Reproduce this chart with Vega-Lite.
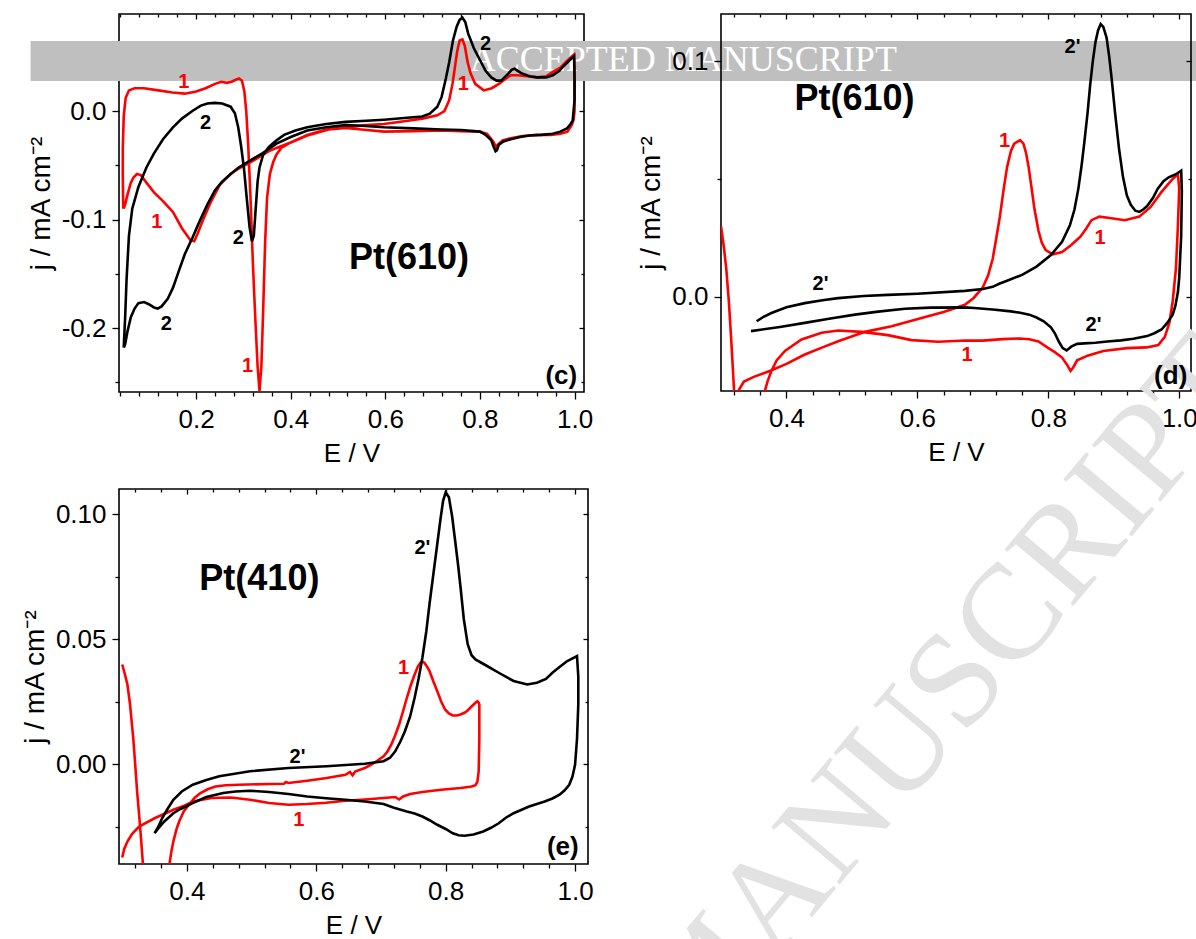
{
"$schema": "https://vega.github.io/schema/vega-lite/v6.json",
"padding": {"left": 20, "top": 12, "right": 0, "bottom": 0},
"background": "#ffffff",
"config": {
  "view": {"stroke": "#000000", "strokeWidth": 1.6},
  "font": "Liberation Sans",
  "axis": {"labelFont": "Liberation Sans", "titleFont": "Liberation Sans", "labelFontSize": 26, "titleFontSize": 26, "titleFontWeight": "normal", "labelColor": "#000000", "titleColor": "#000000", "tickColor": "#000000", "tickWidth": 1.3, "domain": false, "grid": false, "labelFlush": false, "labelOverlap": false},
  "axisLeft": {"titleFontSize": 28}
},
"datasets": {
  "c": [
    {"s":"1","E":0.046,"j":-0.090},{"s":"1","E":0.045,"j":-0.060},{"s":"1","E":0.045,"j":-0.035},{"s":"1","E":0.047,"j":-0.005},{"s":"1","E":0.051,"j":0.012},{"s":"1","E":0.058,"j":0.019},{"s":"1","E":0.07,"j":0.021},{"s":"1","E":0.09,"j":0.021},{"s":"1","E":0.12,"j":0.019},{"s":"1","E":0.15,"j":0.017},{"s":"1","E":0.176,"j":0.016},{"s":"1","E":0.20,"j":0.018},{"s":"1","E":0.22,"j":0.021},{"s":"1","E":0.24,"j":0.025},{"s":"1","E":0.253,"j":0.027},{"s":"1","E":0.265,"j":0.026},{"s":"1","E":0.275,"j":0.027},{"s":"1","E":0.285,"j":0.029},{"s":"1","E":0.291,"j":0.030},{"s":"1","E":0.297,"j":0.028},{"s":"1","E":0.302,"j":0.018},{"s":"1","E":0.306,"j":0.0},{"s":"1","E":0.310,"j":-0.03},{"s":"1","E":0.315,"j":-0.08},{"s":"1","E":0.320,"j":-0.14},{"s":"1","E":0.325,"j":-0.19},{"s":"1","E":0.330,"j":-0.235},{"s":"1","E":0.334,"j":-0.258},{"s":"1","E":0.338,"j":-0.235},{"s":"1","E":0.342,"j":-0.18},{"s":"1","E":0.346,"j":-0.12},{"s":"1","E":0.350,"j":-0.08},{"s":"1","E":0.356,"j":-0.058},{"s":"1","E":0.363,"j":-0.047},{"s":"1","E":0.370,"j":-0.040},{"s":"1","E":0.38,"j":-0.034},{"s":"1","E":0.40,"j":-0.029},{"s":"1","E":0.435,"j":-0.022},{"s":"1","E":0.475,"j":-0.017},{"s":"1","E":0.516,"j":-0.015},{"s":"1","E":0.56,"j":-0.013},{"s":"1","E":0.597,"j":-0.012},{"s":"1","E":0.64,"j":-0.0095},{"s":"1","E":0.678,"j":-0.007},{"s":"1","E":0.71,"j":-0.004},{"s":"1","E":0.725,"j":0.0},{"s":"1","E":0.735,"j":0.01},{"s":"1","E":0.742,"j":0.025},{"s":"1","E":0.747,"j":0.04},{"s":"1","E":0.752,"j":0.055},{"s":"1","E":0.757,"j":0.065},{"s":"1","E":0.763,"j":0.066},{"s":"1","E":0.768,"j":0.06},{"s":"1","E":0.774,"j":0.045},{"s":"1","E":0.78,"j":0.035},{"s":"1","E":0.79,"j":0.025},{"s":"1","E":0.808,"j":0.019},{"s":"1","E":0.825,"j":0.021},{"s":"1","E":0.84,"j":0.025},{"s":"1","E":0.855,"j":0.03},{"s":"1","E":0.865,"j":0.033},{"s":"1","E":0.88,"j":0.033},{"s":"1","E":0.9,"j":0.032},{"s":"1","E":0.921,"j":0.031},{"s":"1","E":0.94,"j":0.032},{"s":"1","E":0.954,"j":0.036},{"s":"1","E":0.97,"j":0.04},{"s":"1","E":0.986,"j":0.047},{"s":"1","E":0.999,"j":0.052},{"s":"1","E":1.0,"j":0.04},{"s":"1","E":1.0,"j":0.0},{"s":"1","E":0.998,"j":-0.008},{"s":"1","E":0.994,"j":-0.013},{"s":"1","E":0.985,"j":-0.019},{"s":"1","E":0.97,"j":-0.021},{"s":"1","E":0.95,"j":-0.022},{"s":"1","E":0.921,"j":-0.022},{"s":"1","E":0.89,"j":-0.023},{"s":"1","E":0.865,"j":-0.025},{"s":"1","E":0.848,"j":-0.027},{"s":"1","E":0.838,"j":-0.031},{"s":"1","E":0.834,"j":-0.033},{"s":"1","E":0.828,"j":-0.028},{"s":"1","E":0.815,"j":-0.021},{"s":"1","E":0.8,"j":-0.019},{"s":"1","E":0.76,"j":-0.0185},{"s":"1","E":0.719,"j":-0.018},{"s":"1","E":0.66,"j":-0.0185},{"s":"1","E":0.597,"j":-0.019},{"s":"1","E":0.55,"j":-0.017},{"s":"1","E":0.516,"j":-0.0155},{"s":"1","E":0.48,"j":-0.017},{"s":"1","E":0.435,"j":-0.0225},{"s":"1","E":0.40,"j":-0.029},{"s":"1","E":0.37,"j":-0.034},{"s":"1","E":0.354,"j":-0.037},{"s":"1","E":0.32,"j":-0.046},{"s":"1","E":0.29,"j":-0.053},{"s":"1","E":0.273,"j":-0.058},{"s":"1","E":0.25,"j":-0.068},{"s":"1","E":0.232,"j":-0.083},{"s":"1","E":0.215,"j":-0.1},{"s":"1","E":0.203,"j":-0.113},{"s":"1","E":0.196,"j":-0.12},{"s":"1","E":0.188,"j":-0.119},{"s":"1","E":0.17,"j":-0.108},{"s":"1","E":0.151,"j":-0.093},{"s":"1","E":0.13,"j":-0.083},{"s":"1","E":0.111,"j":-0.075},{"s":"1","E":0.095,"j":-0.066},{"s":"1","E":0.083,"j":-0.059},{"s":"1","E":0.075,"j":-0.058},{"s":"1","E":0.068,"j":-0.061},{"s":"1","E":0.062,"j":-0.066},{"s":"1","E":0.055,"j":-0.077},{"s":"1","E":0.050,"j":-0.086},{"s":"1","E":0.047,"j":-0.090},
    {"s":"2","E":0.047,"j":-0.218},{"s":"2","E":0.050,"j":-0.19},{"s":"2","E":0.053,"j":-0.155},{"s":"2","E":0.058,"j":-0.115},{"s":"2","E":0.065,"j":-0.09},{"s":"2","E":0.078,"j":-0.070},{"s":"2","E":0.095,"j":-0.052},{"s":"2","E":0.111,"j":-0.039},{"s":"2","E":0.13,"j":-0.026},{"s":"2","E":0.151,"j":-0.015},{"s":"2","E":0.17,"j":-0.007},{"s":"2","E":0.192,"j":0.0},{"s":"2","E":0.21,"j":0.005},{"s":"2","E":0.224,"j":0.007},{"s":"2","E":0.24,"j":0.0075},{"s":"2","E":0.255,"j":0.007},{"s":"2","E":0.273,"j":0.004},{"s":"2","E":0.282,"j":-0.002},{"s":"2","E":0.289,"j":-0.015},{"s":"2","E":0.295,"j":-0.032},{"s":"2","E":0.301,"j":-0.052},{"s":"2","E":0.307,"j":-0.08},{"s":"2","E":0.313,"j":-0.107},{"s":"2","E":0.318,"j":-0.12},{"s":"2","E":0.322,"j":-0.115},{"s":"2","E":0.326,"j":-0.09},{"s":"2","E":0.330,"j":-0.065},{"s":"2","E":0.334,"j":-0.052},{"s":"2","E":0.342,"j":-0.04},{"s":"2","E":0.354,"j":-0.033},{"s":"2","E":0.37,"j":-0.027},{"s":"2","E":0.386,"j":-0.022},{"s":"2","E":0.41,"j":-0.018},{"s":"2","E":0.435,"j":-0.015},{"s":"2","E":0.475,"j":-0.012},{"s":"2","E":0.516,"j":-0.010},{"s":"2","E":0.56,"j":-0.009},{"s":"2","E":0.597,"j":-0.008},{"s":"2","E":0.64,"j":-0.0065},{"s":"2","E":0.678,"j":-0.005},{"s":"2","E":0.694,"j":-0.0025},{"s":"2","E":0.71,"j":0.004},{"s":"2","E":0.719,"j":0.013},{"s":"2","E":0.728,"j":0.03},{"s":"2","E":0.735,"j":0.045},{"s":"2","E":0.743,"j":0.065},{"s":"2","E":0.751,"j":0.078},{"s":"2","E":0.757,"j":0.084},{"s":"2","E":0.763,"j":0.086},{"s":"2","E":0.769,"j":0.082},{"s":"2","E":0.775,"j":0.0715},{"s":"2","E":0.787,"j":0.058},{"s":"2","E":0.8,"j":0.047},{"s":"2","E":0.812,"j":0.037},{"s":"2","E":0.824,"j":0.031},{"s":"2","E":0.835,"j":0.028},{"s":"2","E":0.845,"j":0.028},{"s":"2","E":0.852,"j":0.031},{"s":"2","E":0.86,"j":0.0345},{"s":"2","E":0.867,"j":0.038},{"s":"2","E":0.873,"j":0.039},{"s":"2","E":0.88,"j":0.037},{"s":"2","E":0.889,"j":0.0345},{"s":"2","E":0.905,"j":0.032},{"s":"2","E":0.921,"j":0.031},{"s":"2","E":0.94,"j":0.031},{"s":"2","E":0.954,"j":0.033},{"s":"2","E":0.968,"j":0.037},{"s":"2","E":0.978,"j":0.042},{"s":"2","E":0.99,"j":0.047},{"s":"2","E":0.999,"j":0.0505},{"s":"2","E":1.0,"j":0.03},{"s":"2","E":1.0,"j":0.01},{"s":"2","E":0.996,"j":-0.009},{"s":"2","E":0.99,"j":-0.013},{"s":"2","E":0.984,"j":-0.016},{"s":"2","E":0.97,"j":-0.019},{"s":"2","E":0.954,"j":-0.021},{"s":"2","E":0.93,"j":-0.022},{"s":"2","E":0.905,"j":-0.0225},{"s":"2","E":0.885,"j":-0.024},{"s":"2","E":0.865,"j":-0.026},{"s":"2","E":0.85,"j":-0.028},{"s":"2","E":0.84,"j":-0.031},{"s":"2","E":0.836,"j":-0.036},{"s":"2","E":0.833,"j":-0.037},{"s":"2","E":0.829,"j":-0.033},{"s":"2","E":0.824,"j":-0.027},{"s":"2","E":0.812,"j":-0.022},{"s":"2","E":0.8,"j":-0.019},{"s":"2","E":0.76,"j":-0.0175},{"s":"2","E":0.719,"j":-0.017},{"s":"2","E":0.66,"j":-0.016},{"s":"2","E":0.597,"j":-0.015},{"s":"2","E":0.55,"j":-0.0135},{"s":"2","E":0.516,"j":-0.013},{"s":"2","E":0.475,"j":-0.015},{"s":"2","E":0.435,"j":-0.018},{"s":"2","E":0.40,"j":-0.024},{"s":"2","E":0.37,"j":-0.030},{"s":"2","E":0.34,"j":-0.039},{"s":"2","E":0.313,"j":-0.046},{"s":"2","E":0.29,"j":-0.052},{"s":"2","E":0.273,"j":-0.058},{"s":"2","E":0.255,"j":-0.065},{"s":"2","E":0.24,"j":-0.073},{"s":"2","E":0.224,"j":-0.086},{"s":"2","E":0.208,"j":-0.101},{"s":"2","E":0.192,"j":-0.117},{"s":"2","E":0.176,"j":-0.132},{"s":"2","E":0.163,"j":-0.148},{"s":"2","E":0.151,"j":-0.163},{"s":"2","E":0.14,"j":-0.173},{"s":"2","E":0.127,"j":-0.18},{"s":"2","E":0.119,"j":-0.182},{"s":"2","E":0.111,"j":-0.181},{"s":"2","E":0.1,"j":-0.178},{"s":"2","E":0.09,"j":-0.176},{"s":"2","E":0.078,"j":-0.177},{"s":"2","E":0.07,"j":-0.182},{"s":"2","E":0.062,"j":-0.19},{"s":"2","E":0.055,"j":-0.203},{"s":"2","E":0.05,"j":-0.215},{"s":"2","E":0.047,"j":-0.218}
  ],
  "d": [
    {"s":"1","E":0.300,"j":0.030},{"s":"1","E":0.304,"j":0.022},{"s":"1","E":0.308,"j":0.012},{"s":"1","E":0.312,"j":-0.002},{"s":"1","E":0.316,"j":-0.02},{"s":"1","E":0.319,"j":-0.035},{"s":"1","E":0.322,"j":-0.05},{"s":"1","E":0.323,"j":-0.06},{"s":"1","E":0.324,"j":-0.05},{"s":"1","E":0.3264,"j":-0.040},{"s":"1","E":0.335,"j":-0.036},{"s":"1","E":0.35,"j":-0.034},{"s":"1","E":0.3774,"j":-0.0312},{"s":"1","E":0.40,"j":-0.0285},{"s":"1","E":0.428,"j":-0.0245},{"s":"1","E":0.455,"j":-0.0215},{"s":"1","E":0.479,"j":-0.0189},{"s":"1","E":0.52,"j":-0.0149},{"s":"1","E":0.5606,"j":-0.0125},{"s":"1","E":0.6064,"j":-0.009},{"s":"1","E":0.64,"j":-0.0065},{"s":"1","E":0.6725,"j":-0.0034},{"s":"1","E":0.686,"j":-0.0005},{"s":"1","E":0.70,"j":0.004},{"s":"1","E":0.708,"j":0.009},{"s":"1","E":0.715,"j":0.016},{"s":"1","E":0.72,"j":0.024},{"s":"1","E":0.726,"j":0.034},{"s":"1","E":0.732,"j":0.046},{"s":"1","E":0.737,"j":0.055},{"s":"1","E":0.743,"j":0.062},{"s":"1","E":0.748,"j":0.065},{"s":"1","E":0.757,"j":0.0665},{"s":"1","E":0.762,"j":0.065},{"s":"1","E":0.766,"j":0.061},{"s":"1","E":0.770,"j":0.055},{"s":"1","E":0.774,"j":0.047},{"s":"1","E":0.779,"j":0.037},{"s":"1","E":0.785,"j":0.028},{"s":"1","E":0.79,"j":0.023},{"s":"1","E":0.796,"j":0.0198},{"s":"1","E":0.807,"j":0.018},{"s":"1","E":0.821,"j":0.019},{"s":"1","E":0.835,"j":0.022},{"s":"1","E":0.849,"j":0.0255},{"s":"1","E":0.858,"j":0.029},{"s":"1","E":0.866,"j":0.0325},{"s":"1","E":0.878,"j":0.034},{"s":"1","E":0.894,"j":0.0334},{"s":"1","E":0.917,"j":0.0325},{"s":"1","E":0.939,"j":0.034},{"s":"1","E":0.956,"j":0.038},{"s":"1","E":0.973,"j":0.0445},{"s":"1","E":0.99,"j":0.050},{"s":"1","E":0.998,"j":0.052},{"s":"1","E":1.0,"j":0.046},{"s":"1","E":0.998,"j":0.03},{"s":"1","E":0.995,"j":0.012},{"s":"1","E":0.99,"j":-0.002},{"s":"1","E":0.985,"j":-0.011},{"s":"1","E":0.978,"j":-0.017},{"s":"1","E":0.968,"j":-0.0205},{"s":"1","E":0.95,"j":-0.0215},{"s":"1","E":0.92,"j":-0.0218},{"s":"1","E":0.884,"j":-0.023},{"s":"1","E":0.86,"j":-0.025},{"s":"1","E":0.844,"j":-0.027},{"s":"1","E":0.838,"j":-0.030},{"s":"1","E":0.834,"j":-0.0315},{"s":"1","E":0.829,"j":-0.029},{"s":"1","E":0.821,"j":-0.0258},{"s":"1","E":0.81,"j":-0.0235},{"s":"1","E":0.799,"j":-0.0216},{"s":"1","E":0.785,"j":-0.019},{"s":"1","E":0.771,"j":-0.018},{"s":"1","E":0.757,"j":-0.0177},{"s":"1","E":0.73,"j":-0.018},{"s":"1","E":0.70,"j":-0.0186},{"s":"1","E":0.6725,"j":-0.0186},{"s":"1","E":0.632,"j":-0.0191},{"s":"1","E":0.591,"j":-0.0184},{"s":"1","E":0.555,"j":-0.0163},{"s":"1","E":0.515,"j":-0.0149},{"s":"1","E":0.479,"j":-0.0143},{"s":"1","E":0.4537,"j":-0.0153},{"s":"1","E":0.423,"j":-0.0181},{"s":"1","E":0.3977,"j":-0.023},{"s":"1","E":0.385,"j":-0.027},{"s":"1","E":0.377,"j":-0.0315},{"s":"1","E":0.371,"j":-0.036},{"s":"1","E":0.367,"j":-0.040},{"s":"1","E":0.363,"j":-0.05},{"s":"1","E":0.36,"j":-0.06},
    {"s":"2","E":0.3545,"j":-0.0104},{"s":"2","E":0.365,"j":-0.0085},{"s":"2","E":0.377,"j":-0.0069},{"s":"2","E":0.40,"j":-0.0045},{"s":"2","E":0.428,"j":-0.0027},{"s":"2","E":0.455,"j":-0.0015},{"s":"2","E":0.479,"j":-0.0006},{"s":"2","E":0.518,"j":0.0003},{"s":"2","E":0.555,"j":0.0008},{"s":"2","E":0.6,"j":0.0013},{"s":"2","E":0.6725,"j":0.0025},{"s":"2","E":0.70,"j":0.0033},{"s":"2","E":0.715,"j":0.0042},{"s":"2","E":0.725,"j":0.0055},{"s":"2","E":0.737,"j":0.0068},{"s":"2","E":0.76,"j":0.0093},{"s":"2","E":0.782,"j":0.0128},{"s":"2","E":0.804,"j":0.0177},{"s":"2","E":0.821,"j":0.0233},{"s":"2","E":0.833,"j":0.0303},{"s":"2","E":0.840,"j":0.037},{"s":"2","E":0.846,"j":0.046},{"s":"2","E":0.851,"j":0.056},{"s":"2","E":0.855,"j":0.0654},{"s":"2","E":0.86,"j":0.078},{"s":"2","E":0.864,"j":0.09},{"s":"2","E":0.868,"j":0.1},{"s":"2","E":0.872,"j":0.108},{"s":"2","E":0.876,"j":0.113},{"s":"2","E":0.88,"j":0.1157},{"s":"2","E":0.884,"j":0.1145},{"s":"2","E":0.889,"j":0.110},{"s":"2","E":0.893,"j":0.102},{"s":"2","E":0.897,"j":0.092},{"s":"2","E":0.902,"j":0.078},{"s":"2","E":0.908,"j":0.063},{"s":"2","E":0.914,"j":0.051},{"s":"2","E":0.92,"j":0.043},{"s":"2","E":0.926,"j":0.039},{"s":"2","E":0.933,"j":0.0365},{"s":"2","E":0.939,"j":0.036},{"s":"2","E":0.945,"j":0.037},{"s":"2","E":0.951,"j":0.0385},{"s":"2","E":0.96,"j":0.042},{"s":"2","E":0.967,"j":0.0458},{"s":"2","E":0.976,"j":0.049},{"s":"2","E":0.984,"j":0.0507},{"s":"2","E":0.995,"j":0.052},{"s":"2","E":1.003,"j":0.0535},{"s":"2","E":1.004,"j":0.045},{"s":"2","E":1.003,"j":0.026},{"s":"2","E":1.0,"j":0.008},{"s":"2","E":0.998,"j":0.002},{"s":"2","E":0.994,"j":-0.004},{"s":"2","E":0.99,"j":-0.0076},{"s":"2","E":0.982,"j":-0.011},{"s":"2","E":0.973,"j":-0.0139},{"s":"2","E":0.962,"j":-0.0155},{"s":"2","E":0.951,"j":-0.0167},{"s":"2","E":0.93,"j":-0.0178},{"s":"2","E":0.911,"j":-0.0185},{"s":"2","E":0.89,"j":-0.019},{"s":"2","E":0.872,"j":-0.0195},{"s":"2","E":0.855,"j":-0.0198},{"s":"2","E":0.844,"j":-0.020},{"s":"2","E":0.835,"j":-0.0212},{"s":"2","E":0.828,"j":-0.0228},{"s":"2","E":0.822,"j":-0.0218},{"s":"2","E":0.816,"j":-0.019},{"s":"2","E":0.81,"j":-0.0155},{"s":"2","E":0.804,"j":-0.013},{"s":"2","E":0.793,"j":-0.0104},{"s":"2","E":0.782,"j":-0.0088},{"s":"2","E":0.771,"j":-0.0076},{"s":"2","E":0.757,"j":-0.0068},{"s":"2","E":0.743,"j":-0.0062},{"s":"2","E":0.715,"j":-0.0054},{"s":"2","E":0.687,"j":-0.0048},{"s":"2","E":0.6725,"j":-0.0045},{"s":"2","E":0.62,"j":-0.0046},{"s":"2","E":0.581,"j":-0.0051},{"s":"2","E":0.54,"j":-0.0063},{"s":"2","E":0.5046,"j":-0.0076},{"s":"2","E":0.465,"j":-0.0093},{"s":"2","E":0.428,"j":-0.0111},{"s":"2","E":0.39,"j":-0.0128},{"s":"2","E":0.3458,"j":-0.0146}
  ],
  "e": [
    {"s":"1","E":0.30,"j":0.0398},{"s":"1","E":0.304,"j":0.036},{"s":"1","E":0.308,"j":0.0318},{"s":"1","E":0.312,"j":0.024},{"s":"1","E":0.317,"j":0.0104},{"s":"1","E":0.32,"j":0.0},{"s":"1","E":0.323,"j":-0.011},{"s":"1","E":0.326,"j":-0.02},{"s":"1","E":0.329,"j":-0.0297},{"s":"1","E":0.332,"j":-0.04},{"s":"1","E":0.334,"j":-0.055},{"s":"1","E":0.36,"j":-0.07},{"s":"1","E":0.372,"j":-0.05},{"s":"1","E":0.373,"j":-0.040},{"s":"1","E":0.376,"j":-0.035},{"s":"1","E":0.379,"j":-0.031},{"s":"1","E":0.384,"j":-0.026},{"s":"1","E":0.388,"j":-0.023},{"s":"1","E":0.395,"j":-0.019},{"s":"1","E":0.403,"j":-0.0163},{"s":"1","E":0.412,"j":-0.0135},{"s":"1","E":0.421,"j":-0.0116},{"s":"1","E":0.432,"j":-0.0101},{"s":"1","E":0.444,"j":-0.009},{"s":"1","E":0.46,"j":-0.0085},{"s":"1","E":0.48,"j":-0.0083},{"s":"1","E":0.527,"j":-0.008},{"s":"1","E":0.55,"j":-0.0079},{"s":"1","E":0.553,"j":-0.0072},{"s":"1","E":0.557,"j":-0.0076},{"s":"1","E":0.586,"j":-0.0067},{"s":"1","E":0.616,"j":-0.0056},{"s":"1","E":0.645,"j":-0.0043},{"s":"1","E":0.652,"j":-0.0032},{"s":"1","E":0.656,"j":-0.0045},{"s":"1","E":0.66,"j":-0.003},{"s":"1","E":0.675,"j":-0.0016},{"s":"1","E":0.685,"j":-0.0003},{"s":"1","E":0.693,"j":0.0011},{"s":"1","E":0.704,"j":0.0031},{"s":"1","E":0.71,"j":0.005},{"s":"1","E":0.716,"j":0.0078},{"s":"1","E":0.722,"j":0.0115},{"s":"1","E":0.728,"j":0.0158},{"s":"1","E":0.734,"j":0.021},{"s":"1","E":0.74,"j":0.0265},{"s":"1","E":0.746,"j":0.0315},{"s":"1","E":0.752,"j":0.0358},{"s":"1","E":0.757,"j":0.039},{"s":"1","E":0.761,"j":0.0405},{"s":"1","E":0.764,"j":0.041},{"s":"1","E":0.767,"j":0.0405},{"s":"1","E":0.771,"j":0.039},{"s":"1","E":0.775,"j":0.0372},{"s":"1","E":0.781,"j":0.033},{"s":"1","E":0.787,"j":0.0291},{"s":"1","E":0.793,"j":0.025},{"s":"1","E":0.799,"j":0.0218},{"s":"1","E":0.805,"j":0.0202},{"s":"1","E":0.811,"j":0.0194},{"s":"1","E":0.817,"j":0.0194},{"s":"1","E":0.823,"j":0.0198},{"s":"1","E":0.829,"j":0.0205},{"s":"1","E":0.834,"j":0.0214},{"s":"1","E":0.84,"j":0.023},{"s":"1","E":0.846,"j":0.0245},{"s":"1","E":0.849,"j":0.0251},{"s":"1","E":0.851,"j":0.0245},{"s":"1","E":0.852,"j":0.0238},{"s":"1","E":0.852,"j":0.01},{"s":"1","E":0.851,"j":-0.003},{"s":"1","E":0.849,"j":-0.007},{"s":"1","E":0.846,"j":-0.0085},{"s":"1","E":0.84,"j":-0.009},{"s":"1","E":0.823,"j":-0.0096},{"s":"1","E":0.793,"j":-0.0103},{"s":"1","E":0.764,"j":-0.0112},{"s":"1","E":0.745,"j":-0.012},{"s":"1","E":0.734,"j":-0.013},{"s":"1","E":0.728,"j":-0.0142},{"s":"1","E":0.722,"j":-0.0132},{"s":"1","E":0.704,"j":-0.0136},{"s":"1","E":0.675,"j":-0.0142},{"s":"1","E":0.645,"j":-0.0147},{"s":"1","E":0.615,"j":-0.0155},{"s":"1","E":0.586,"j":-0.016},{"s":"1","E":0.557,"j":-0.0163},{"s":"1","E":0.527,"j":-0.0156},{"s":"1","E":0.4975,"j":-0.0143},{"s":"1","E":0.468,"j":-0.0134},{"s":"1","E":0.438,"j":-0.0136},{"s":"1","E":0.409,"j":-0.015},{"s":"1","E":0.397,"j":-0.0166},{"s":"1","E":0.379,"j":-0.0183},{"s":"1","E":0.35,"j":-0.0217},{"s":"1","E":0.326,"j":-0.025},{"s":"1","E":0.315,"j":-0.028},{"s":"1","E":0.308,"j":-0.031},{"s":"1","E":0.303,"j":-0.034},{"s":"1","E":0.30,"j":-0.0374},
    {"s":"2","E":0.35,"j":-0.0277},{"s":"2","E":0.356,"j":-0.025},{"s":"2","E":0.3616,"j":-0.0217},{"s":"2","E":0.37,"j":-0.018},{"s":"2","E":0.379,"j":-0.0143},{"s":"2","E":0.392,"j":-0.011},{"s":"2","E":0.409,"j":-0.0083},{"s":"2","E":0.43,"j":-0.0064},{"s":"2","E":0.45,"j":-0.0049},{"s":"2","E":0.4975,"j":-0.0029},{"s":"2","E":0.557,"j":-0.0016},{"s":"2","E":0.616,"j":-0.0009},{"s":"2","E":0.675,"j":0.0001},{"s":"2","E":0.704,"j":0.0011},{"s":"2","E":0.714,"j":0.0025},{"s":"2","E":0.722,"j":0.0051},{"s":"2","E":0.73,"j":0.009},{"s":"2","E":0.737,"j":0.0131},{"s":"2","E":0.745,"j":0.019},{"s":"2","E":0.752,"j":0.0265},{"s":"2","E":0.758,"j":0.034},{"s":"2","E":0.764,"j":0.0425},{"s":"2","E":0.77,"j":0.053},{"s":"2","E":0.775,"j":0.064},{"s":"2","E":0.781,"j":0.076},{"s":"2","E":0.787,"j":0.088},{"s":"2","E":0.792,"j":0.098},{"s":"2","E":0.796,"j":0.1053},{"s":"2","E":0.80,"j":0.1087},{"s":"2","E":0.805,"j":0.1067},{"s":"2","E":0.81,"j":0.099},{"s":"2","E":0.814,"j":0.0906},{"s":"2","E":0.819,"j":0.08},{"s":"2","E":0.823,"j":0.0706},{"s":"2","E":0.828,"j":0.058},{"s":"2","E":0.834,"j":0.0479},{"s":"2","E":0.84,"j":0.0435},{"s":"2","E":0.846,"j":0.0418},{"s":"2","E":0.855,"j":0.0405},{"s":"2","E":0.864,"j":0.0392},{"s":"2","E":0.882,"j":0.0365},{"s":"2","E":0.905,"j":0.0332},{"s":"2","E":0.926,"j":0.0318},{"s":"2","E":0.941,"j":0.0325},{"s":"2","E":0.955,"j":0.034},{"s":"2","E":0.965,"j":0.0365},{"s":"2","E":0.977,"j":0.039},{"s":"2","E":0.988,"j":0.0412},{"s":"2","E":1.003,"j":0.0432},{"s":"2","E":1.005,"j":0.035},{"s":"2","E":1.005,"j":0.0238},{"s":"2","E":1.003,"j":0.01},{"s":"2","E":1.0,"j":-0.0003},{"s":"2","E":0.996,"j":-0.005},{"s":"2","E":0.991,"j":-0.0083},{"s":"2","E":0.984,"j":-0.0105},{"s":"2","E":0.976,"j":-0.0123},{"s":"2","E":0.965,"j":-0.0138},{"s":"2","E":0.953,"j":-0.015},{"s":"2","E":0.929,"j":-0.017},{"s":"2","E":0.905,"j":-0.0197},{"s":"2","E":0.893,"j":-0.0215},{"s":"2","E":0.882,"j":-0.0237},{"s":"2","E":0.87,"j":-0.0255},{"s":"2","E":0.858,"j":-0.027},{"s":"2","E":0.843,"j":-0.0282},{"s":"2","E":0.829,"j":-0.0287},{"s":"2","E":0.82,"j":-0.0285},{"s":"2","E":0.811,"j":-0.0277},{"s":"2","E":0.8,"j":-0.026},{"s":"2","E":0.787,"j":-0.0243},{"s":"2","E":0.775,"j":-0.0225},{"s":"2","E":0.764,"j":-0.021},{"s":"2","E":0.752,"j":-0.0198},{"s":"2","E":0.74,"j":-0.019},{"s":"2","E":0.72,"j":-0.0175},{"s":"2","E":0.704,"j":-0.016},{"s":"2","E":0.675,"j":-0.015},{"s":"2","E":0.645,"j":-0.0143},{"s":"2","E":0.615,"j":-0.0137},{"s":"2","E":0.586,"j":-0.013},{"s":"2","E":0.557,"j":-0.012},{"s":"2","E":0.527,"j":-0.0112},{"s":"2","E":0.4975,"j":-0.0107},{"s":"2","E":0.475,"j":-0.011},{"s":"2","E":0.456,"j":-0.0116},{"s":"2","E":0.43,"j":-0.0132},{"s":"2","E":0.409,"j":-0.0156},{"s":"2","E":0.39,"j":-0.018},{"s":"2","E":0.379,"j":-0.0197},{"s":"2","E":0.365,"j":-0.023},{"s":"2","E":0.355,"j":-0.026},{"s":"2","E":0.35,"j":-0.0277}
  ],
  "cl": [
    {"s":"1","t":"1","E":0.174,"j":0.027},{"s":"2","t":"2","E":0.22,"j":-0.011},{"s":"1","t":"1","E":0.117,"j":-0.102},{"s":"2","t":"2","E":0.289,"j":-0.117},{"s":"2","t":"2","E":0.137,"j":-0.196},{"s":"1","t":"1","E":0.309,"j":-0.235},{"s":"2","t":"2","E":0.812,"j":0.062},{"s":"1","t":"1","E":0.765,"j":0.025}
  ],
  "dl": [
    {"s":"2","t":"2'","E":0.837,"j":0.106},{"s":"1","t":"1","E":0.733,"j":0.066},{"s":"1","t":"1","E":0.879,"j":0.025},{"s":"2","t":"2'","E":0.452,"j":0.0053},{"s":"2","t":"2'","E":0.869,"j":-0.0118},{"s":"1","t":"1","E":0.676,"j":-0.0247}
  ],
  "el": [
    {"s":"2","t":"2'","E":0.764,"j":0.0864},{"s":"1","t":"1","E":0.735,"j":0.0385},{"s":"2","t":"2'","E":0.571,"j":0.0027},{"s":"1","t":"1","E":0.573,"j":-0.0223}
  ],
  "ct": [{"t":"Pt(610)","E":0.65,"j":-0.135}],
  "cp": [{"t":"(c)","E":0.972,"j":-0.244}],
  "dt": [{"t":"Pt(610)","E":0.504,"j":0.084}],
  "dp": [{"t":"(d)","E":0.987,"j":-0.0336}],
  "et": [{"t":"Pt(410)","E":0.512,"j":0.074}],
  "ep": [{"t":"(e)","E":0.981,"j":-0.033}],
  "wmbar": [{"E1":-0.15,"E2":2.4,"j1":0.0645,"j2":0.0277}],
  "wmtext": [{"t":"ACCEPTED MANUSCRIPT","E":1.230,"j":0.0369}],
  "wmdiag": [{"t":"MANUSCRIPT","E":0.262,"j":-0.322}]
},
"bounds": "flush",
"columns": 2,
"spacing": {"row": 97, "column": 133},
"resolve": {"scale": {"x": "independent", "y": "independent", "color": "independent"}},
"concat": [
  {
    "width": 465, "height": 378,
    "resolve": {"axis": {"x": "independent", "y": "independent"}},
    "layer": [
      {"data": {"name": "wmbar"}, "mark": {"type": "rect", "color": "#bfbfbf", "clip": false},
       "encoding": {"x": {"field": "E1", "type": "quantitative", "scale": {"domain": [0.037, 1.02], "nice": false, "zero": false}, "axis": null}, "x2": {"field": "E2"}, "y": {"field": "j1", "type": "quantitative", "scale": {"domain": [-0.2589, 0.0894], "nice": false, "zero": false}, "axis": null}, "y2": {"field": "j2"}}},
      {"data": {"name": "wmtext"}, "mark": {"type": "text", "font": "Liberation Serif", "fontSize": 36, "color": "#ffffff", "align": "center", "baseline": "alphabetic", "clip": false},
       "encoding": {"x": {"field": "E", "type": "quantitative", "axis": null}, "y": {"field": "j", "type": "quantitative", "axis": null}, "text": {"field": "t"}}},
      {"data": {"name": "c"}, "mark": {"type": "line", "strokeWidth": 2.6, "clip": true},
       "encoding": {
         "x": {"field": "E", "type": "quantitative", "axis": {"orient": "bottom", "title": "E / V", "values": [0.04,0.08,0.12,0.16,0.2,0.24,0.28,0.32,0.36,0.4,0.44,0.48,0.52,0.56,0.6,0.64,0.68,0.72,0.76,0.8,0.84,0.88,0.92,0.96,1.0], "labelExpr": "abs(datum.value*5 - round(datum.value*5)) < 0.001 ? format(datum.value, '.1f') : ''", "tickSize": {"condition": {"test": "abs(datum.value*5 - round(datum.value*5)) < 0.001", "value": 7}, "value": 4}, "labelPadding": 7, "titlePadding": 8}},
         "y": {"field": "j", "type": "quantitative", "axis": {"orient": "left", "title": "j / mA cm⁻²", "values": [-0.25,-0.2,-0.15,-0.1,-0.05,0,0.05], "labelExpr": "abs(datum.value*10 - round(datum.value*10)) < 0.001 ? ((datum.value < -0.0001 ? '-' : '') + format(abs(datum.value), '.1f')) : ''", "tickSize": {"condition": {"test": "abs(datum.value*10 - round(datum.value*10)) < 0.001", "value": 7}, "value": 4}, "labelPadding": 6, "titlePadding": 6}},
         "color": {"field": "s", "type": "nominal", "scale": {"domain": ["1","2"], "range": ["#ff0000","#000000"]}, "legend": null},
         "order": {"value": null}}},
      {"data": {"name": "cl"}, "mark": {"type": "text", "font": "Liberation Sans", "fontSize": 20, "fontWeight": "bold", "align": "center", "baseline": "middle"},
       "encoding": {
         "x": {"field": "E", "type": "quantitative", "axis": {"orient": "top", "title": null, "labels": false, "values": [0.04,0.08,0.12,0.16,0.2,0.24,0.28,0.32,0.36,0.4,0.44,0.48,0.52,0.56,0.6,0.64,0.68,0.72,0.76,0.8,0.84,0.88,0.92,0.96,1.0], "tickSize": {"condition": {"test": "abs(datum.value*5 - round(datum.value*5)) < 0.001", "value": -5}, "value": -3}}},
         "y": {"field": "j", "type": "quantitative", "axis": {"orient": "right", "title": null, "labels": false, "values": [-0.25,-0.2,-0.15,-0.1,-0.05,0,0.05], "tickSize": {"condition": {"test": "abs(datum.value*10 - round(datum.value*10)) < 0.001", "value": -5}, "value": -3}}},
         "color": {"field": "s", "type": "nominal", "legend": null},
         "text": {"field": "t"}}},
      {"data": {"name": "ct"}, "mark": {"type": "text", "font": "Liberation Sans", "fontSize": 36, "fontWeight": "bold", "align": "center", "baseline": "middle", "color": "#000000"},
       "encoding": {"x": {"field": "E", "type": "quantitative", "axis": null}, "y": {"field": "j", "type": "quantitative", "axis": null}, "text": {"field": "t"}}},
      {"data": {"name": "cp"}, "mark": {"type": "text", "font": "Liberation Sans", "fontSize": 26, "fontWeight": "bold", "align": "center", "baseline": "middle", "color": "#000000"},
       "encoding": {"x": {"field": "E", "type": "quantitative", "axis": null}, "y": {"field": "j", "type": "quantitative", "axis": null}, "text": {"field": "t"}}}
    ]
  },
  {
    "width": 470, "height": 377,
    "resolve": {"axis": {"x": "independent", "y": "independent"}},
    "layer": [
      {"data": {"name": "wmdiag"}, "mark": {"type": "text", "font": "Liberation Serif", "fontSize": 136, "color": "#e2e2e2", "align": "left", "baseline": "alphabetic", "angle": -50, "clip": false},
       "encoding": {"x": {"field": "E", "type": "quantitative", "scale": {"domain": [0.30, 1.018], "nice": false, "zero": false}, "axis": null}, "y": {"field": "j", "type": "quantitative", "scale": {"domain": [-0.04, 0.12], "nice": false, "zero": false}, "axis": null}, "text": {"field": "t"}}},
      {"data": {"name": "d"}, "mark": {"type": "line", "strokeWidth": 2.6, "clip": true},
       "encoding": {
         "x": {"field": "E", "type": "quantitative", "axis": {"orient": "bottom", "title": "E / V", "values": [0.32,0.36,0.4,0.44,0.48,0.52,0.56,0.6,0.64,0.68,0.72,0.76,0.8,0.84,0.88,0.92,0.96,1.0], "labelExpr": "abs(datum.value*5 - round(datum.value*5)) < 0.001 ? format(datum.value, '.1f') : ''", "tickSize": {"condition": {"test": "abs(datum.value*5 - round(datum.value*5)) < 0.001", "value": 7}, "value": 4}, "labelPadding": 7, "titlePadding": 8}},
         "y": {"field": "j", "type": "quantitative", "axis": {"orient": "left", "title": "j / mA cm⁻²", "values": [0, 0.05, 0.1], "labelExpr": "abs(datum.value*10 - round(datum.value*10)) < 0.001 ? format(datum.value, '.1f') : ''", "tickSize": {"condition": {"test": "abs(datum.value*10 - round(datum.value*10)) < 0.001", "value": 7}, "value": 4}, "labelPadding": 6, "titlePadding": 6}},
         "color": {"field": "s", "type": "nominal", "scale": {"domain": ["1","2"], "range": ["#ff0000","#000000"]}, "legend": null},
         "order": {"value": null}}},
      {"data": {"name": "dl"}, "mark": {"type": "text", "font": "Liberation Sans", "fontSize": 20, "fontWeight": "bold", "align": "center", "baseline": "middle"},
       "encoding": {
         "x": {"field": "E", "type": "quantitative", "axis": {"orient": "top", "title": null, "labels": false, "values": [0.32,0.36,0.4,0.44,0.48,0.52,0.56,0.6,0.64,0.68,0.72,0.76,0.8,0.84,0.88,0.92,0.96,1.0], "tickSize": {"condition": {"test": "abs(datum.value*5 - round(datum.value*5)) < 0.001", "value": -5}, "value": -3}}},
         "y": {"field": "j", "type": "quantitative", "axis": {"orient": "right", "title": null, "labels": false, "values": [0, 0.05, 0.1], "tickSize": {"condition": {"test": "abs(datum.value*10 - round(datum.value*10)) < 0.001", "value": -5}, "value": -3}}},
         "color": {"field": "s", "type": "nominal", "legend": null},
         "text": {"field": "t"}}},
      {"data": {"name": "dt"}, "mark": {"type": "text", "font": "Liberation Sans", "fontSize": 36, "fontWeight": "bold", "align": "center", "baseline": "middle", "color": "#000000"},
       "encoding": {"x": {"field": "E", "type": "quantitative", "axis": null}, "y": {"field": "j", "type": "quantitative", "axis": null}, "text": {"field": "t"}}},
      {"data": {"name": "dp"}, "mark": {"type": "text", "font": "Liberation Sans", "fontSize": 26, "fontWeight": "bold", "align": "center", "baseline": "middle", "color": "#000000"},
       "encoding": {"x": {"field": "E", "type": "quantitative", "axis": null}, "y": {"field": "j", "type": "quantitative", "axis": null}, "text": {"field": "t"}}}
    ]
  },
  {
    "width": 469, "height": 375,
    "resolve": {"axis": {"x": "independent", "y": "independent"}},
    "layer": [
      {"data": {"name": "e"}, "mark": {"type": "line", "strokeWidth": 2.6, "clip": true},
       "encoding": {
         "x": {"field": "E", "type": "quantitative", "scale": {"domain": [0.295, 1.02], "nice": false, "zero": false}, "axis": {"orient": "bottom", "title": "E / V", "values": [0.32,0.36,0.4,0.44,0.48,0.52,0.56,0.6,0.64,0.68,0.72,0.76,0.8,0.84,0.88,0.92,0.96,1.0], "labelExpr": "abs(datum.value*5 - round(datum.value*5)) < 0.001 ? format(datum.value, '.1f') : ''", "tickSize": {"condition": {"test": "abs(datum.value*5 - round(datum.value*5)) < 0.001", "value": 7}, "value": 4}, "labelPadding": 7, "titlePadding": 8}},
         "y": {"field": "j", "type": "quantitative", "scale": {"domain": [-0.04, 0.11], "nice": false, "zero": false}, "axis": {"orient": "left", "title": "j / mA cm⁻²", "values": [-0.025, 0, 0.025, 0.05, 0.075, 0.1], "labelExpr": "abs(datum.value*20 - round(datum.value*20)) < 0.001 ? format(datum.value, '.2f') : ''", "tickSize": {"condition": {"test": "abs(datum.value*20 - round(datum.value*20)) < 0.001", "value": 7}, "value": 4}, "labelPadding": 6, "titlePadding": 6}},
         "color": {"field": "s", "type": "nominal", "scale": {"domain": ["1","2"], "range": ["#ff0000","#000000"]}, "legend": null},
         "order": {"value": null}}},
      {"data": {"name": "el"}, "mark": {"type": "text", "font": "Liberation Sans", "fontSize": 20, "fontWeight": "bold", "align": "center", "baseline": "middle"},
       "encoding": {
         "x": {"field": "E", "type": "quantitative", "axis": {"orient": "top", "title": null, "labels": false, "values": [0.32,0.36,0.4,0.44,0.48,0.52,0.56,0.6,0.64,0.68,0.72,0.76,0.8,0.84,0.88,0.92,0.96,1.0], "tickSize": {"condition": {"test": "abs(datum.value*5 - round(datum.value*5)) < 0.001", "value": -5}, "value": -3}}},
         "y": {"field": "j", "type": "quantitative", "axis": {"orient": "right", "title": null, "labels": false, "values": [-0.025, 0, 0.025, 0.05, 0.075, 0.1], "tickSize": {"condition": {"test": "abs(datum.value*20 - round(datum.value*20)) < 0.001", "value": -5}, "value": -3}}},
         "color": {"field": "s", "type": "nominal", "legend": null},
         "text": {"field": "t"}}},
      {"data": {"name": "et"}, "mark": {"type": "text", "font": "Liberation Sans", "fontSize": 36, "fontWeight": "bold", "align": "center", "baseline": "middle", "color": "#000000"},
       "encoding": {"x": {"field": "E", "type": "quantitative", "axis": null}, "y": {"field": "j", "type": "quantitative", "axis": null}, "text": {"field": "t"}}},
      {"data": {"name": "ep"}, "mark": {"type": "text", "font": "Liberation Sans", "fontSize": 26, "fontWeight": "bold", "align": "center", "baseline": "middle", "color": "#000000"},
       "encoding": {"x": {"field": "E", "type": "quantitative", "axis": null}, "y": {"field": "j", "type": "quantitative", "axis": null}, "text": {"field": "t"}}}
    ]
  }
]
}
